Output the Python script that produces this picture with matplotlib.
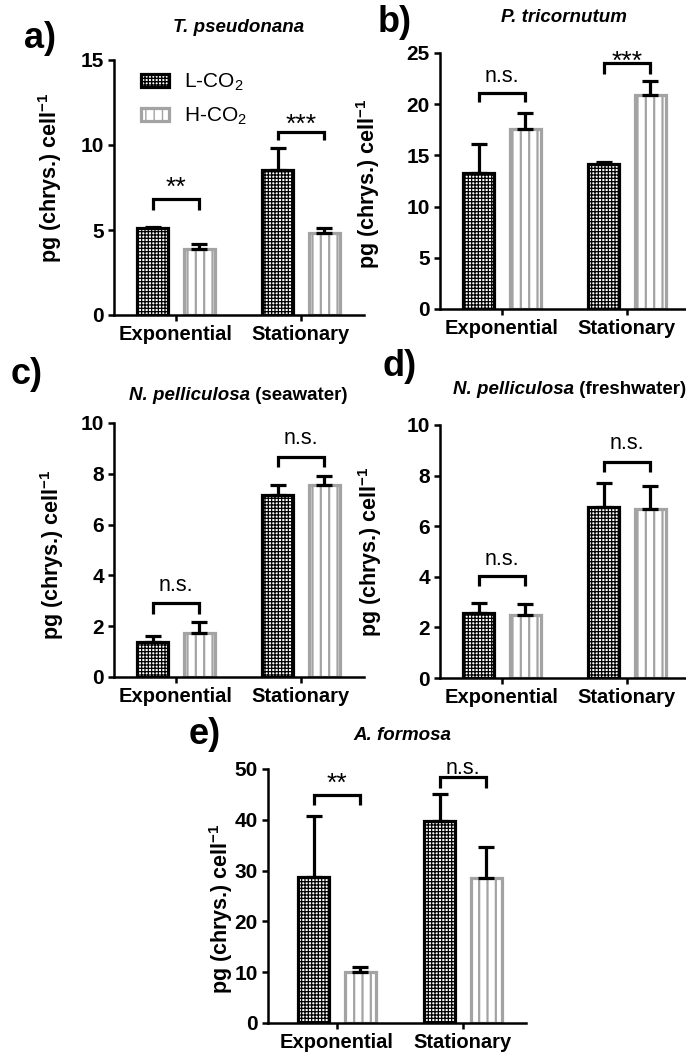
import matplotlib
matplotlib.use("Agg")
import matplotlib.pyplot as plt
import numpy as np

plt.rcParams['font.family'] = ['Liberation Sans', 'DejaVu Sans']
plt.rcParams['mathtext.fontset'] = 'custom'
plt.rcParams['mathtext.rm'] = 'Liberation Sans'
plt.rcParams['mathtext.it'] = 'Liberation Sans:italic'
plt.rcParams['mathtext.bf'] = 'Liberation Sans:bold'

# ---------------- data ----------------
phases = ['Exponential', 'Stationary']
series_names = ['L-CO$_2$', 'H-CO$_2$']

a_low = [5.1, 8.5];    a_low_err = [0.1, 1.3]
a_high = [3.9, 4.8];   a_high_err = [0.3, 0.3]
a_sig = ['**', '***']

b_low = [13.3, 14.2];  b_low_err = [2.8, 0.2]
b_high = [17.6, 20.9]; b_high_err = [1.5, 1.4]
b_sig = ['n.s.', '***']

c_low = [1.37, 7.17];  c_low_err = [0.23, 0.39]
c_high = [1.72, 7.56]; c_high_err = [0.45, 0.35]
c_sig = ['n.s.', 'n.s.']

d_low = [2.57, 6.74];  d_low_err = [0.39, 0.96]
d_high = [2.5, 6.67];  d_high_err = [0.43, 0.93]
d_sig = ['n.s.', 'n.s.']

e_low = [28.8, 39.8];  e_low_err = [12.0, 5.3]
e_high = [10.1, 28.5]; e_high_err = [0.9, 6.2]
e_sig = ['**', 'n.s.']

y_ticks = {
    'a': [0, 5, 10, 15],
    'b': [0, 5, 10, 15, 20, 25],
    'c': [0, 2, 4, 6, 8, 10],
    'd': [0, 2, 4, 6, 8, 10],
    'e': [0, 10, 20, 30, 40, 50],
}

# ---------------- layout (pixels) ----------------
W, H = 686, 1055
fig = plt.figure(figsize=(W / 100, H / 100), dpi=100)

def px_axes(x0, x1, ytop, ybot):
    return fig.add_axes([x0 / W, 1 - ybot / H, (x1 - x0) / W, (ybot - ytop) / H])

panels = {
    'a': dict(box=(113.5, 363.5, 60, 315), xlim=(-0.5, 1.5),
              title=[('T. pseudonana', 'italic')], tpos=(239, 27), lpos=(40, 38),
              ylab=(-50, 0.54),
              data=(a_low, a_low_err, a_high, a_high_err, a_sig),
              brk=[(6.8, 6.2, 7.94), (10.78, 10.3, 11.66)]),
    'b': dict(box=(439.5, 689.5, 53, 309), xlim=(-0.5, 1.5),
              title=[('P. tricornutum', 'italic')], tpos=(564, 17), lpos=(395, 22),
              ylab=(-58, 0.49),
              data=(b_low, b_low_err, b_high, b_high_err, b_sig),
              brk=[(21.1, 20.25, 22.7), (24.0, 22.95, 24.97)]),
    'c': dict(box=(113.5, 363.5, 423, 677), xlim=(-0.5, 1.5),
              title=[('N. pelliculosa', 'italic'), (' (seawater)', 'normal')],
              tpos=(238, 395), lpos=(27, 375), ylab=(-47, 0.48),
              data=(c_low, c_low_err, c_high, c_high_err, c_sig),
              brk=[(2.93, 2.5, 3.62), (8.66, 8.27, 9.41)]),
    'd': dict(box=(439.5, 689.5, 425, 678), xlim=(-0.5, 1.5),
              title=[('N. pelliculosa', 'italic'), (' (freshwater)', 'normal')],
              tpos=(570, 390), lpos=(400, 366), ylab=(-55, 0.5),
              data=(d_low, d_low_err, d_high, d_high_err, d_sig),
              brk=[(4.03, 3.62, 4.69), (8.53, 8.16, 9.28)]),
    'e': dict(box=(267.7, 526, 769, 1023), xlim=(-0.55, 1.5),
              title=[('A. formosa', 'italic')], tpos=(402, 735), lpos=(205, 735),
              ylab=(-33, 0.45),
              data=(e_low, e_low_err, e_high, e_high_err, e_sig),
              brk=[(44.9, 42.9, 48.8), (48.4, 46.3, 50.2)]),
}

BW = 0.25
OFF = 0.186
LW = 2.3
GRAY = '#a3a3a3'
XTICK_FS = 14.5
YTICK_FS = 15
NS_FS = 15.5
AST_FS = 19

x = np.arange(len(phases))

for key, p in panels.items():
    ax = px_axes(*p['box'])
    low, low_err, high, high_err, sig = p['data']
    with plt.rc_context({'hatch.linewidth': 0.9}):
        b1 = ax.bar(x - OFF, low, BW, facecolor='white', edgecolor='black',
                    linewidth=LW, hatch='+++++', zorder=2, label=series_names[0])
    with plt.rc_context({'hatch.linewidth': 1.6}):
        b2 = ax.bar(x + OFF, high, BW, facecolor='white', edgecolor=GRAY,
                    linewidth=LW, hatch='||', zorder=2, label=series_names[1])
    ax.errorbar(x - OFF, low, yerr=[np.zeros(len(low)), low_err], fmt='none',
                ecolor='black', elinewidth=LW, capsize=5.5, capthick=LW, zorder=3)
    ax.errorbar(x + OFF, high, yerr=[np.zeros(len(high)), high_err], fmt='none',
                ecolor='black', elinewidth=LW, capsize=5.5, capthick=LW, zorder=3)
    for i, (yb, yl, yt) in enumerate(p['brk']):
        ax.plot([i - OFF, i - OFF, i + OFF, i + OFF], [yl, yb, yb, yl], color='black',
                lw=LW, solid_joinstyle='miter', solid_capstyle='butt', zorder=4,
                clip_on=False)
        s = sig[i]
        if '*' in s:
            fs, frac = AST_FS, 0.58
        else:
            fs, frac = NS_FS, 0.26
        ax.annotate(s, (i, yt), xytext=(0, -frac * fs), textcoords='offset points',
                    ha='center', va='baseline', fontsize=fs, annotation_clip=False)

    yt_ = y_ticks[key]
    ax.set_ylim(yt_[0], yt_[-1])
    ax.set_yticks(yt_)
    ax.set_xlim(*p['xlim'])
    ax.set_xticks(x)
    ax.set_xticklabels(phases)
    for sp in ['top', 'right']:
        ax.spines[sp].set_visible(False)
    for sp in ['left', 'bottom']:
        ax.spines[sp].set_linewidth(1.8)
    ax.tick_params(axis='both', direction='out', length=4, width=1.8, pad=3)
    ax.tick_params(axis='x', labelsize=XTICK_FS)
    ax.tick_params(axis='y', labelsize=YTICK_FS)
    for lab in ax.get_xticklabels() + ax.get_yticklabels():
        lab.set_fontweight('bold')
    ax.set_ylabel('pg (chrys.) cell$^{\\mathbf{-1}}$', fontsize=15.5, fontweight='bold')
    axw = p['box'][1] - p['box'][0]
    ax.yaxis.set_label_coords(p['ylab'][0] / axw, p['ylab'][1])
    ax.set_facecolor('none')

    fig.text(p['lpos'][0] / W, 1 - p['lpos'][1] / H, key + ')', fontsize=26,
             fontweight='bold', ha='center', va='center')
    if key == 'a':
        ax.legend((b1, b2), series_names, loc='upper left',
                  bbox_to_anchor=(141 / W, 1 - 72 / H), bbox_transform=fig.transFigure,
                  frameon=False, fontsize=15, handlelength=1.35, handleheight=0.6,
                  handletextpad=0.7, labelspacing=0.6, borderpad=0, borderaxespad=0)

renderer = fig.canvas.get_renderer()
for key, p in panels.items():
    cx, cy = p['tpos']
    texts = []
    for s, style in p['title']:
        t = fig.text(0, 1 - cy / H, s, fontsize=13.5, fontweight='bold', fontstyle=style,
                     ha='left', va='center')
        texts.append(t)
    widths = [t.get_window_extent(renderer).width for t in texts]
    total = sum(widths)
    xstart = cx - total / 2
    for t, w in zip(texts, widths):
        t.set_x(xstart / W)
        xstart += w

fig.savefig('out.png', dpi=100)
